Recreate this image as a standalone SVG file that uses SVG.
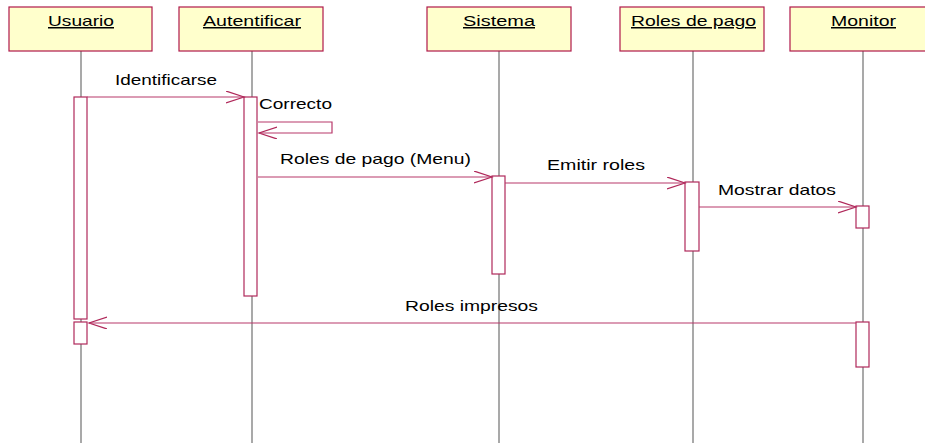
<svg xmlns="http://www.w3.org/2000/svg" width="925" height="443" viewBox="0 0 925 443">
<style>
.box{fill:#ffffcc;stroke:#b0184a;stroke-width:1.2}
.life{stroke:#707070;stroke-width:1.2}
.act{fill:#ffffff;stroke:#b0285a;stroke-width:1.2}
.msg{stroke:#b8386a;stroke-width:1.2;fill:none}
.t{font-family:"Liberation Sans",Arial,sans-serif;font-size:15px;fill:#000}
.title{text-decoration:underline}
</style>
<defs>
<marker id="arr" markerUnits="userSpaceOnUse" markerWidth="22" markerHeight="16" refX="18" refY="6" orient="auto">
<path d="M0,0 L18,6 L0,12" fill="none" stroke="#b0285a" stroke-width="1.2"/>
</marker>
</defs>
<g id="lifelines">
<line class="life" x1="81" y1="51" x2="81" y2="443"/>
<line class="life" x1="252" y1="51" x2="252" y2="443"/>
<line class="life" x1="499" y1="51" x2="499" y2="443"/>
<line class="life" x1="693" y1="51" x2="693" y2="443"/>
<line class="life" x1="863" y1="51" x2="863" y2="443"/>
</g>
<g id="node-usuario">
<rect class="box" x="9" y="7" width="143" height="44"/>
<text class="t title" x="81" y="26" text-anchor="middle" textLength="66" lengthAdjust="spacingAndGlyphs">Usuario</text>
</g>
<g id="node-autentificar">
<rect class="box" x="179" y="7" width="144" height="44"/>
<text class="t title" x="252" y="26" text-anchor="middle" textLength="98" lengthAdjust="spacingAndGlyphs">Autentificar</text>
</g>
<g id="node-sistema">
<rect class="box" x="427" y="7" width="144" height="44"/>
<text class="t title" x="499" y="26" text-anchor="middle" textLength="72" lengthAdjust="spacingAndGlyphs">Sistema</text>
</g>
<g id="node-roles">
<rect class="box" x="620" y="7" width="144" height="44"/>
<text class="t title" x="693.5" y="26" text-anchor="middle" textLength="125" lengthAdjust="spacingAndGlyphs">Roles de pago</text>
</g>
<g id="node-monitor">
<rect class="box" x="790" y="7" width="144" height="44"/>
<text class="t title" x="863.5" y="26" text-anchor="middle" textLength="65" lengthAdjust="spacingAndGlyphs">Monitor</text>
</g>
<g id="activations">
<rect class="act" x="74" y="97" width="13" height="222"/>
<rect class="act" x="74" y="322" width="13" height="22"/>
<rect class="act" x="244" y="97" width="13" height="199"/>
<rect class="act" x="492" y="176" width="13" height="98"/>
<rect class="act" x="685" y="182" width="14" height="69"/>
<rect class="act" x="856" y="206" width="13" height="22"/>
<rect class="act" x="856" y="322" width="13" height="45"/>
</g>
<g id="connectors">
<line class="msg" x1="87" y1="97" x2="244" y2="97" marker-end="url(#arr)"/>
<polyline class="msg" points="258,122 332,122 332,133 259,133" marker-end="url(#arr)"/>
<line class="msg" x1="258" y1="177" x2="492" y2="177" marker-end="url(#arr)"/>
<line class="msg" x1="505" y1="183" x2="685" y2="183" marker-end="url(#arr)"/>
<line class="msg" x1="699" y1="207" x2="856" y2="207" marker-end="url(#arr)"/>
<line class="msg" x1="856" y1="323" x2="89" y2="323" marker-end="url(#arr)"/>
</g>
<g id="labels">
<text class="t" x="115" y="85" textLength="102" lengthAdjust="spacingAndGlyphs">Identificarse</text>
<text class="t" x="259" y="109" textLength="73" lengthAdjust="spacingAndGlyphs">Correcto</text>
<text class="t" x="280" y="164" textLength="191" lengthAdjust="spacingAndGlyphs">Roles de pago (Menu)</text>
<text class="t" x="547" y="170" textLength="98" lengthAdjust="spacingAndGlyphs">Emitir roles</text>
<text class="t" x="718" y="195" textLength="118" lengthAdjust="spacingAndGlyphs">Mostrar datos</text>
<text class="t" x="405" y="311" textLength="133" lengthAdjust="spacingAndGlyphs">Roles impresos</text>
</g>
</svg>
